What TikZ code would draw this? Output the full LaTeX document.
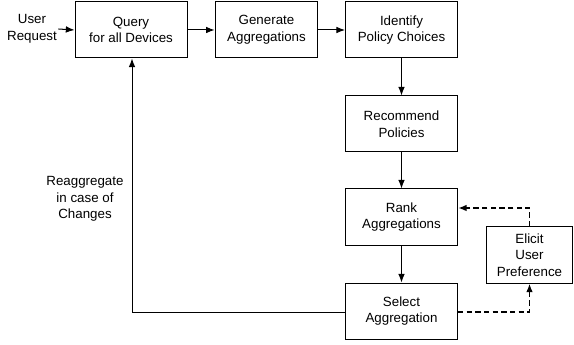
\documentclass[tikz,border=0pt]{standalone}
\usepackage{fontspec}
\setmainfont{Liberation Sans}
\usetikzlibrary{arrows.meta}
\begin{document}
\begin{tikzpicture}[x=0.75pt,y=-0.75pt,
  font=\fontsize{10}{12.5}\selectfont,
  box/.style={draw,line width=0.75pt,align=center,inner sep=0pt,minimum width=84pt,minimum height=42pt},
  arr/.style={line width=0.75pt,-{Latex[length=6.5pt,width=5pt]}},
  darr/.style={line width=1.3pt,dash pattern=on 4pt off 2.5pt,-{Latex[length=6.5pt,width=5pt]}}]
\useasboundingbox (0,0) rectangle (574,345);
\node[box] (q) at (131,30) {Query\\for all Devices};
\node[box,minimum width=77pt] (g) at (266.5,30) {Generate\\Aggregations};
\node[box] (i) at (401.5,30) {Identify\\Policy Choices};
\node[box] (r) at (401.5,124) {Recommend\\Policies};
\node[box] (k) at (401.5,217) {Rank\\Aggregations};
\node[box] (s) at (401.5,311) {Select\\Aggregation};
\node[box,minimum width=65pt] (e) at (529.5,255) {Elicit\\User\\Preference};
\node[align=center,inner sep=1pt] (u) at (32,29) {User\\Request};
\node[align=center] (l) at (85,199) {Reaggregate\\in case of\\Changes};
\coordinate (c1) at (132,312);
\draw[arr] (u.east) -- (q.west);
\draw[arr] (q) -- (g);
\draw[arr] (g) -- (i);
\draw[arr] (i) -- (r);
\draw[arr] (r) -- (k);
\draw[arr] (k) -- (s);
\draw[arr] (s.west |- c1) -- (c1) -- (q.south -| c1);
\draw[darr] (s.east |- c1) -| (e.south);
\draw[darr] (e.north) |- (k.east |- 0,208);
\end{tikzpicture}
\end{document}
